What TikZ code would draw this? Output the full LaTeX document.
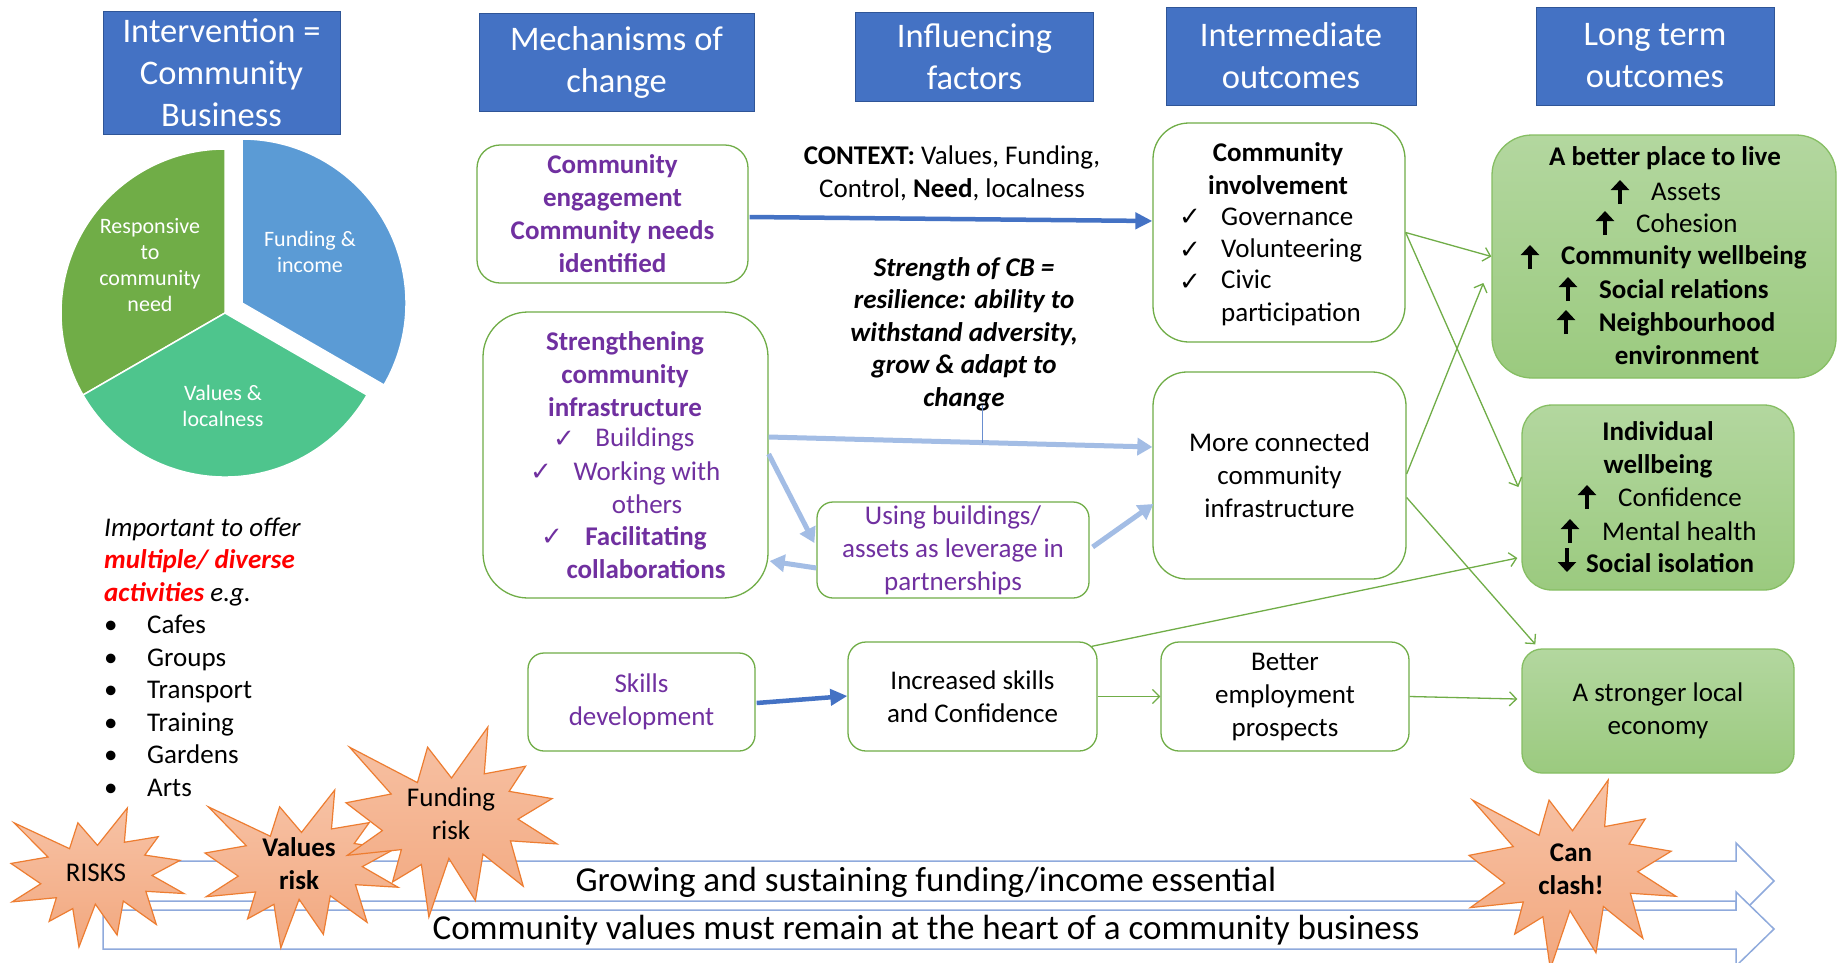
\documentclass[tikz,border=0pt]{standalone}
\usepackage{fontspec}
\setmainfont{Carlito}
\newfontfamily\dejavu{DejaVu Sans}
\usetikzlibrary{arrows.meta,calc}
\definecolor{hdr}{HTML}{4472C4}
\definecolor{hdrb}{HTML}{2F5597}
\definecolor{purp}{HTML}{7030A0}
\definecolor{gline}{HTML}{70AD47}
\definecolor{gbord}{HTML}{86BE63}
\definecolor{gtop}{HTML}{B3D79F}
\definecolor{gbot}{HTML}{9BCA7F}
\definecolor{lblue}{HTML}{A3BDE5}
\definecolor{dblue}{HTML}{4472C4}
\definecolor{arrb}{HTML}{8FAADC}
\definecolor{pgreen}{HTML}{70AD47}
\definecolor{pteal}{HTML}{4EC58D}
\definecolor{pblue}{HTML}{5B9BD5}
\definecolor{startop}{HTML}{F7C2A5}
\definecolor{starbot}{HTML}{F2A87F}
\definecolor{stard}{HTML}{ED7D31}
\definecolor{redtxt}{HTML}{FF0000}
\tikzset{
 hdrbox/.style={draw=hdrb, line width=0.8pt, fill=hdr, text=white, align=center, inner sep=0pt, font=\fontsize{34.5}{42}\selectfont},
 wbox/.style={draw=gline, line width=1.3pt, fill=white, align=center, inner sep=0pt, font=\fontsize{27}{33}\selectfont},
 gbox/.style={draw=gbord, line width=1.3pt, top color=gtop, bottom color=gbot, align=center, inner sep=0pt, font=\fontsize{27}{33}\selectfont},
 txt/.style={align=center, inner sep=0pt, font=\fontsize{27}{33}\selectfont},
 btxt/.style={align=center, inner sep=0pt, font=\bfseries\fontsize{27}{33}\selectfont},
 chk/.style={inner sep=0pt, font=\dejavu\fontsize{26}{28}\selectfont},
 thickarr/.style={draw=black, line width=4.5pt, -{Triangle[length=10pt,width=18pt]}},
 gar/.style={draw=gline, line width=1.3pt, -{Straight Barb[length=7pt,width=14pt]}},
 dar/.style={draw=dblue, line width=4.5pt, -{Triangle[length=17pt,width=16pt]}},
 lar/.style={draw=lblue, line width=5pt, -{Triangle[length=15pt,width=17pt]}},
 startxt/.style={inner sep=0pt, align=center, font=\fontsize{27}{33}\selectfont},
 starshape/.style={draw=stard, line width=1.2pt, top color=startop, bottom color=starbot},
 blockarr/.style={draw=arrb, line width=1.5pt, fill=white},
 pietxt/.style={inner sep=0pt, align=center, text=white, font=\fontsize{22}{26}\selectfont},
}
\newcommand\boom[4]{%
 \begin{scope}[shift={(#1,#2)},xscale=#3,yscale=#4]
  \path[starshape] (0.5,0.2685) -- (0.6723,0) -- (0.6553,0.2465) -- (0.8509,0.2063) -- (0.7732,0.3387) -- (0.9767,0.3767) -- (0.8151,0.4850) -- (1,0.6153) -- (0.7795,0.5992) -- (0.8400,0.8377) -- (0.6491,0.6693) -- (0.6133,0.9138) -- (0.4876,0.6914) -- (0.3928,1) -- (0.3572,0.7235) -- (0.2205,0.8156) -- (0.2624,0.6452) -- (0.00625,0.6753) -- (0.1723,0.5451) -- (0,0.3988) -- (0.2142,0.3526) -- (0.0171,0.1063) -- (0.3385,0.2926) -- (0.3867,0.1063) -- cycle;
 \end{scope}}
\newcommand\uparw[2]{\draw[thickarr] (#1,#2+12) -- (#1,#2-12);}
\newcommand\dnarw[2]{\draw[thickarr] (#1,#2-12) -- (#1,#2+12);}
\begin{document}
\begin{tikzpicture}[x=1pt,y=-1pt]
\useasboundingbox (0,0) rectangle (1838,962);
\clip (0,0) rectangle (1838,962);
\fill[white] (0,0) rectangle (1838,962);

% headers
\node[hdrbox, minimum width=237pt, minimum height=123pt] (hint) at (221.5,72.5) {Intervention =\\Community\\Business};
\node[hdrbox, minimum width=275pt, minimum height=98pt] (hmech) at (616.5,62.5) {Mechanisms of\\change};
\node[hdrbox, minimum width=238pt, minimum height=89pt] (hinf) at (974.5,56.5) {Influencing\\factors};
\node[hdrbox, minimum width=250pt, minimum height=98pt] (hinter) at (1291,56) {Intermediate\\outcomes};
\node[hdrbox, minimum width=238pt, minimum height=98pt] (hlong) at (1655,56) {Long term\\outcomes};

% pie
\path[fill=pgreen, draw=white, line width=1.5pt] (225,313) -- ++(90:164pt) arc[start angle=90, end angle=210, radius=164pt] -- cycle;
\path[fill=pteal, draw=white, line width=1.5pt] (225,313) -- ++(210:164pt) arc[start angle=210, end angle=330, radius=164pt] -- cycle;
\path[fill=pblue, draw=white, line width=1.5pt] (242,303) -- ++(-30:164pt) arc[start angle=-30, end angle=90, radius=164pt] -- cycle;
\node[pietxt] (presp) at (150,265) {Responsive\\to\\community\\need};
\node[pietxt] (pfund) at (310,251.5) {Funding \&\\income};
\node[pietxt] (pval) at (223,405.5) {Values \&\\localness};

% left list
\node[anchor=west, align=left, inner sep=0pt, font=\fontsize{27}{32.5}\selectfont] (acts) at (104,657) {{\itshape Important to offer}\\{\bfseries\itshape\color{redtxt}multiple/ diverse}\\{\bfseries\itshape\color{redtxt}activities}{\itshape\ e.g.}\\\makebox[43pt][l]{•}Cafes\\\makebox[43pt][l]{•}Groups\\\makebox[43pt][l]{•}Transport\\\makebox[43pt][l]{•}Training\\\makebox[43pt][l]{•}Gardens\\\makebox[43pt][l]{•}Arts};

% mechanisms boxes
\node[wbox, minimum width=271pt, minimum height=138pt, rounded corners=23pt, text=purp, font=\bfseries\fontsize{27}{33}\selectfont] (ceng) at (612.5,214) {Community\\engagement\\Community needs\\identified};
\node[wbox, minimum width=285pt, minimum height=286pt, rounded corners=45pt] (sci) at (625.5,455) {};
\node[btxt, text=purp] (scit) at (625,374) {Strengthening\\community\\infrastructure};
\node[chk, text=purp, anchor=west] (sc1) at (553,439) {✓};
\node[txt, text=purp] (st1) at (645,439) {Buildings};
\node[chk, text=purp, anchor=west] (sc2) at (530,472) {✓};
\node[txt, text=purp] (st2) at (647,487.5) {Working with\\others};
\node[chk, text=purp, anchor=west] (sc3) at (541,537) {✓};
\node[btxt, text=purp] (st3) at (646,552.5) {Facilitating\\collaborations};
\node[wbox, minimum width=272pt, minimum height=96pt, rounded corners=16pt, text=purp] (ubl) at (953,550) {Using buildings/\\assets as leverage in\\partnerships};
\node[wbox, minimum width=227pt, minimum height=98pt, rounded corners=16pt, text=purp] (skd) at (641.5,702) {Skills\\development};

% influencing texts
\node[txt] (ctx) at (952,173.5) {\textbf{CONTEXT:} Values, Funding,\\Control, \textbf{Need}, localness};
\node[align=center, inner sep=0pt, font=\bfseries\itshape\fontsize{27}{32.5}\selectfont] (strg) at (964,334) {Strength of CB =\\resilience: ability to\\withstand adversity,\\grow \& adapt to\\change};

% intermediate boxes
\node[wbox, minimum width=252pt, minimum height=219pt, rounded corners=36pt] (ci) at (1279,232.5) {};
\node[btxt] (cit) at (1278,168.5) {Community\\involvement};
\node[chk, anchor=west] (cc1) at (1179,217) {✓};
\node[txt, anchor=west] (ct1) at (1221,217) {Governance};
\node[chk, anchor=west] (cc2) at (1179,250) {✓};
\node[txt, anchor=west] (ct2) at (1221,250) {Volunteering};
\node[chk, anchor=west] (cc3) at (1179,282) {✓};
\node[txt, anchor=west, align=left] (ct3) at (1221,297.5) {Civic\\participation};
\node[wbox, minimum width=253pt, minimum height=207pt, rounded corners=34pt] (mc) at (1279.5,475.5) {More connected\\community\\infrastructure};
\node[wbox, minimum width=249pt, minimum height=109pt, rounded corners=18pt] (inc) at (972.5,696.5) {Increased skills\\and Confidence};
\node[wbox, minimum width=248pt, minimum height=109pt, rounded corners=18pt] (be) at (1285,696.5) {Better\\employment\\prospects};

% long term boxes
\node[gbox, minimum width=344pt, minimum height=243pt, rounded corners=40pt] (bp) at (1664,256.5) {};
\node[btxt] (bpt) at (1665,158) {A better place to live};
\uparw{1620}{192}
\node[txt, anchor=west] (bt1) at (1651,192) {Assets};
\uparw{1605}{223}
\node[txt, anchor=west] (bt2) at (1636,223) {Cohesion};
\uparw{1530}{257}
\node[btxt, anchor=west] (bt3) at (1561,257) {Community wellbeing};
\uparw{1568}{289}
\node[btxt, anchor=west] (bt4) at (1599,289) {Social relations};
\uparw{1566}{322}
\node[btxt] (bt5) at (1687,338.5) {Neighbourhood\\environment};
\node[gbox, minimum width=272pt, minimum height=185pt, rounded corners=30pt] (iw) at (1658,497.5) {};
\node[btxt] (iwt) at (1658,449.5) {Individual\\wellbeing};
\uparw{1587}{497}
\node[txt, anchor=west] (it1) at (1618,497) {Confidence};
\uparw{1570}{531}
\node[txt, anchor=west] (it2) at (1602,531) {Mental health};
\dnarw{1567}{560}
\node[btxt, anchor=west] (it3) at (1586,563) {Social isolation};
\node[gbox, minimum width=272pt, minimum height=124pt, rounded corners=20pt] (se) at (1658,711) {A stronger local\\economy};

% connectors
\draw[dar] ($(ceng.east)+(1,3)$) -- ($(ci.west)+(0,-11.5)$);
\draw[lar] ($(sci.east)+(0,-18)$) -- ($(mc.west)+(0,-28.5)$);
\coordinate (sj) at (982,443);
\draw[dblue!80, line width=1pt] ($(strg.south)+(18,-6)$) -- (sj);
\draw[lar] ($(sci.east)+(0,-1)$) -- ($(ubl.west)+(-2,-7)$);
\draw[lar] ($(ubl.west)+(0,18)$) -- ($(sci.east)+(1,106)$);
\draw[lar] ($(ubl.east)+(3,-3)$) -- ($(mc.west)+(1,28.5)$);
\draw[dar] ($(skd.east)+(1,1)$) -- ($(inc.west)+(0,-0.5)$);
\draw[gar] (ci.east) -- (bp.west);
\draw[gar] (ci.east) -- ($(iw.west)+(-3,-10.5)$);
\draw[gar] ($(mc.east)+(0,-1.5)$) -- ($(bp.west)+(-8,26.5)$);
\draw[gar] ($(mc.east)+(0,22)$) -- ($(se.north west)+(14,-4)$);
\draw[gar] ($(inc.north east)+(-6,5)$) -- ($(iw.west)+(-4,60.5)$);
\draw[gar] (inc.east) -- (be.west);
\draw[gar] (be.east) -- ($(se.west)+(-4,-12)$);

% bottom block arrows
\path[blockarr] (130,861) -- (1736,861) -- (1736,843) -- (1774,881) -- (1736,919) -- (1736,901) -- (130,901) -- cycle;
\node[inner sep=0pt, font=\fontsize{35}{40}\selectfont] (grow) at (926,882) {Growing and sustaining funding/income essential};
\path[blockarr] (103,910) -- (1736,910) -- (1736,892) -- (1774,929) -- (1736,966) -- (1736,949) -- (103,949) -- cycle;
\node[inner sep=0pt, font=\fontsize{35}{40}\selectfont] (vals) at (926,930) {Community values must remain at the heart of a community business};

% risk stars
\boom{11}{808}{173}{139}
\node[startxt] (risks) at (96,873) {RISKS};
\boom{205}{790}{193}{158}
\node[startxt, font=\bfseries\fontsize{27}{33}\selectfont] (vrisk) at (299,864) {Values\\risk};
\boom{346}{727}{211}{190}
\node[startxt] (frisk) at (451,813.5) {Funding\\risk};
\boom{1469}{780}{207}{189}
\node[startxt, font=\bfseries\fontsize{27}{33}\selectfont] (clash) at (1571,869.5) {Can\\clash!};
\end{tikzpicture}
\end{document}
